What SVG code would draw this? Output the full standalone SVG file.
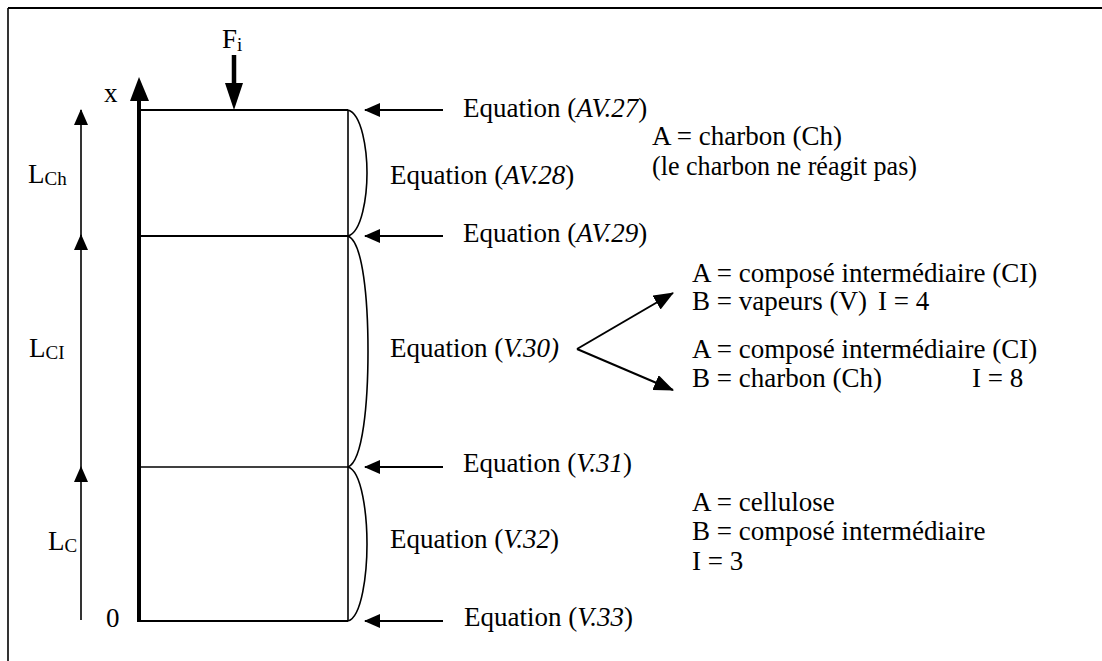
<svg xmlns="http://www.w3.org/2000/svg" width="1102" height="661" viewBox="0 0 1102 661" font-family="'Liberation Serif', 'DejaVu Serif', 'Times New Roman', serif">
<style>
text{font-family:'Liberation Serif','Times New Roman',serif;font-size:27px;fill:#000}
.sub{font-size:19px}
.it{font-style:italic}
.thin{stroke:#000;stroke-width:1.6;fill:none}
.med{stroke:#000;stroke-width:2;fill:none}
</style>
<defs>
<marker id="ah" viewBox="0 0 16 14" refX="15" refY="7" markerWidth="16" markerHeight="14" markerUnits="userSpaceOnUse" orient="auto">
<path d="M0,0 L16,7 L0,14 Z" fill="#000"/>
</marker>
<marker id="ahb" viewBox="0 0 20 16" refX="19" refY="8" markerWidth="20" markerHeight="16" markerUnits="userSpaceOnUse" orient="auto">
<path d="M0,0 L20,8 L0,16 Z" fill="#000"/>
</marker>
</defs>
<rect width="1102" height="661" fill="#fff"/>
<g id="frame">
<line x1="8" y1="8" x2="1102" y2="8" stroke="#000" stroke-width="2.2"/>
<line x1="8" y1="8" x2="8" y2="661" stroke="#000" stroke-width="1.6"/>
</g>
<g id="column">
<line x1="139" y1="98" x2="139" y2="622" stroke="#000" stroke-width="4"/>
<path d="M139,77 L130,101 L149,101 Z" fill="#000"/>
<line class="med" x1="139" y1="110" x2="348" y2="110"/>
<line class="med" x1="139" y1="236" x2="348" y2="236"/>
<line class="thin" x1="139" y1="467" x2="348" y2="467"/>
<line class="med" x1="139" y1="621" x2="348" y2="621"/>
<line class="thin" x1="348" y1="110" x2="348" y2="621"/>
<text x="104" y="102">x</text>
<text x="106" y="627">0</text>
</g>
<g id="feed">
<line x1="234" y1="55" x2="234" y2="86" stroke="#000" stroke-width="4.5"/>
<path d="M234,110 L225,83 L243,83 Z" fill="#000"/>
<text x="222" y="48">F<tspan class="sub" dy="3">i</tspan></text>
</g>
<g id="dimensions">
<line class="thin" x1="81" y1="236" x2="81" y2="110" marker-end="url(#ah)"/>
<line class="thin" x1="81" y1="467" x2="81" y2="235" marker-end="url(#ah)"/>
<line class="thin" x1="81" y1="620" x2="81" y2="467" marker-end="url(#ah)"/>
<text x="28" y="183">L<tspan class="sub" dy="2">Ch</tspan></text>
<text x="29" y="357">L<tspan class="sub" dy="2">CI</tspan></text>
<text x="48" y="550">L<tspan class="sub" dy="2">C</tspan></text>
</g>
<g id="braces">
<path class="thin" d="M348,110 C362,114 367,150 367,173 C367,196 362,232 348,236"/>
<path class="thin" d="M348,236 C363,242 368,300 368,351 C368,402 363,461 348,467"/>
<path class="thin" d="M348,467 C362,471 367,515 367,544 C367,573 362,617 348,621"/>
</g>
<g id="connectors">
<line class="med" x1="443" y1="110" x2="365" y2="110" marker-end="url(#ah)"/>
<line class="med" x1="443" y1="236" x2="365" y2="236" marker-end="url(#ah)"/>
<line class="med" x1="443" y1="467" x2="365" y2="467" marker-end="url(#ah)"/>
<line class="med" x1="443" y1="621" x2="365" y2="621" marker-end="url(#ah)"/>
<line class="med" stroke-width="2.6" x1="577" y1="349" x2="673" y2="293" marker-end="url(#ahb)"/>
<line class="med" stroke-width="2.6" x1="577" y1="349" x2="673" y2="390" marker-end="url(#ahb)"/>
</g>
<g id="equations">
<text x="463" y="117">Equation (<tspan class="it">AV.27</tspan>)</text>
<text x="390" y="184">Equation (<tspan class="it">AV.28</tspan>)</text>
<text x="463" y="242">Equation (<tspan class="it">AV.29</tspan>)</text>
<text x="390" y="357">Equation (<tspan class="it">V.30)</tspan></text>
<text x="463" y="472">Equation (<tspan class="it">V.31</tspan>)</text>
<text x="390" y="548">Equation (<tspan class="it">V.32</tspan>)</text>
<text x="464" y="626">Equation (<tspan class="it">V.33</tspan>)</text>
</g>
<g id="notes-top">
<text x="652" y="145">A = charbon (Ch)</text>
<text x="652" y="175" textLength="265" lengthAdjust="spacingAndGlyphs">(le charbon ne réagit pas)</text>
</g>
<g id="notes-mid">
<text x="692" y="282">A = composé intermédiaire (CI)</text>
<text x="692" y="310">B = vapeurs (V)<tspan x="878">I = 4</tspan></text>
<text x="692" y="358">A = composé intermédiaire (CI)</text>
<text x="692" y="387">B = charbon (Ch)<tspan x="972">I = 8</tspan></text>
</g>
<g id="notes-bottom">
<text x="692" y="511">A = cellulose</text>
<text x="692" y="540">B = composé intermédiaire</text>
<text x="692" y="570">I = 3</text>
</g>
</svg>
